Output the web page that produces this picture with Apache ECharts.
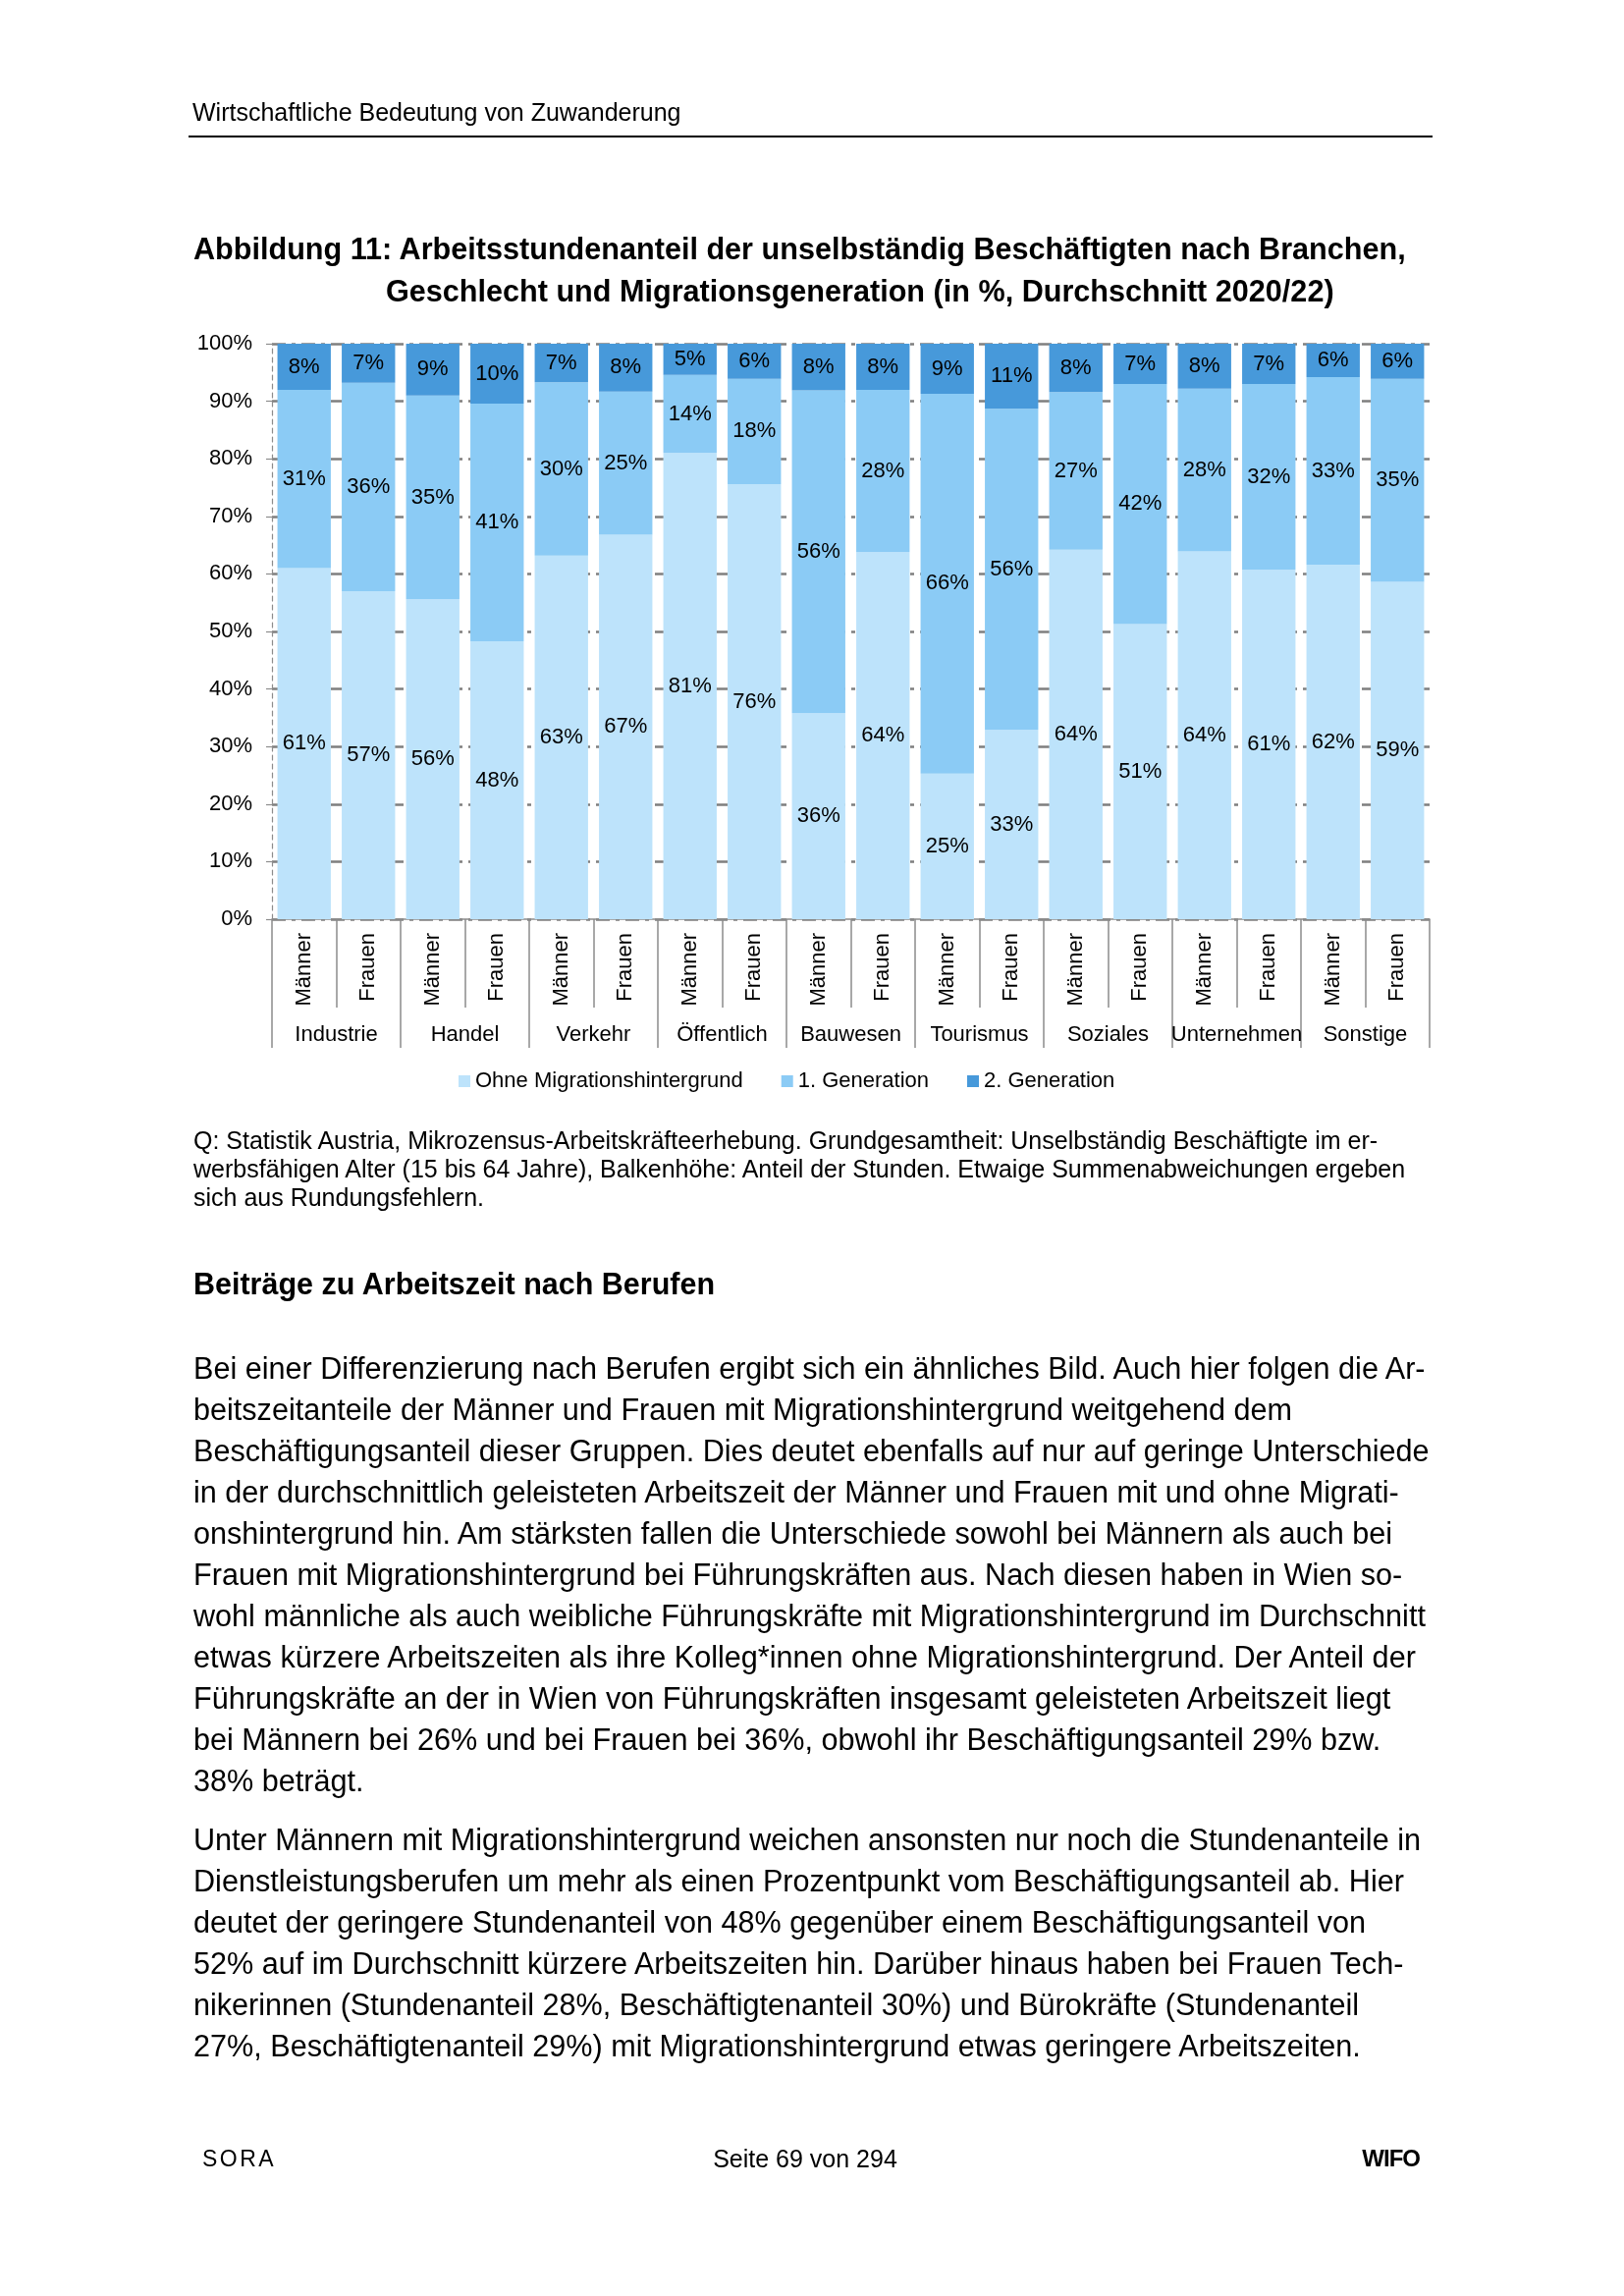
<!DOCTYPE html>
<html>
<head>
<meta charset="utf-8">
<script src="https://cdn.jsdelivr.net/npm/echarts@6/dist/echarts.min.js"></script>
<style>
  html, body { margin: 0; padding: 0; background: #fff; }
  body { width: 1654px; height: 2338px; position: relative; font-family: "Liberation Sans", Arial, sans-serif; color: #000; overflow: hidden; }
  #chart { position: absolute; left: 0; top: 0; width: 1654px; height: 2338px; }
  .t { position: absolute; white-space: nowrap; }
</style>
</head>
<body>
<div id="chart"></div>

<div class="t" style="left:196px; top:99px; font-size:25px; line-height:30px;">Wirtschaftliche Bedeutung von Zuwanderung</div>
<div style="position:absolute; left:192px; top:138px; width:1267px; height:2px; background:#000;"></div>

<div class="t" style="left:197px; top:232px; font-size:30.6px; line-height:43.2px; font-weight:bold;">Abbildung 11: Arbeitsstundenanteil der unselbständig Beschäftigten nach Branchen,<br><span style="padding-left:196px;">Geschlecht und Migrationsgeneration (in %, Durchschnitt 2020/22)</span></div>

<div class="t" style="left:197px; top:1147px; font-size:25px; line-height:29px;">Q: Statistik Austria, Mikrozensus-Arbeitskräfteerhebung. Grundgesamtheit: Unselbständig Beschäftigte im er-<br>werbsfähigen Alter (15 bis 64 Jahre), Balkenhöhe: Anteil der Stunden. Etwaige Summenabweichungen ergeben<br>sich aus Rundungsfehlern.</div>

<div class="t" style="left:197px; top:1287px; font-size:30.5px; line-height:40px; font-weight:bold;">Beiträge zu Arbeitszeit nach Berufen</div>

<div class="t" style="left:197px; top:1372px; font-size:30.6px; line-height:42px;">Bei einer Differenzierung nach Berufen ergibt sich ein ähnliches Bild. Auch hier folgen die Ar-<br>beitszeitanteile der Männer und Frauen mit Migrationshintergrund weitgehend dem<br>Beschäftigungsanteil dieser Gruppen. Dies deutet ebenfalls auf nur auf geringe Unterschiede<br>in der durchschnittlich geleisteten Arbeitszeit der Männer und Frauen mit und ohne Migrati-<br>onshintergrund hin. Am stärksten fallen die Unterschiede sowohl bei Männern als auch bei<br>Frauen mit Migrationshintergrund bei Führungskräften aus. Nach diesen haben in Wien so-<br>wohl männliche als auch weibliche Führungskräfte mit Migrationshintergrund im Durchschnitt<br>etwas kürzere Arbeitszeiten als ihre Kolleg*innen ohne Migrationshintergrund. Der Anteil der<br>Führungskräfte an der in Wien von Führungskräften insgesamt geleisteten Arbeitszeit liegt<br>bei Männern bei 26% und bei Frauen bei 36%, obwohl ihr Beschäftigungsanteil 29% bzw.<br>38% beträgt.</div>

<div class="t" style="left:197px; top:1852px; font-size:30.6px; line-height:42px;">Unter Männern mit Migrationshintergrund weichen ansonsten nur noch die Stundenanteile in<br>Dienstleistungsberufen um mehr als einen Prozentpunkt vom Beschäftigungsanteil ab. Hier<br>deutet der geringere Stundenanteil von 48% gegenüber einem Beschäftigungsanteil von<br>52% auf im Durchschnitt kürzere Arbeitszeiten hin. Darüber hinaus haben bei Frauen Tech-<br>nikerinnen (Stundenanteil 28%, Beschäftigtenanteil 30%) und Bürokräfte (Stundenanteil<br>27%, Beschäftigtenanteil 29%) mit Migrationshintergrund etwas geringere Arbeitszeiten.</div>

<div class="t" style="left:206px; top:2183px; font-size:23px; line-height:30px; letter-spacing:2.5px;">SORA</div>
<div class="t" style="left:0; width:1640px; text-align:center; top:2183px; font-size:25px; line-height:30px;">Seite 69 von 294</div>
<div class="t" style="right:208px; top:2183px; font-size:24px; line-height:30px; font-weight:bold; letter-spacing:-1px;">WIFO</div>

<script>
// Categories
const groups = ['Industrie', 'Handel', 'Verkehr', 'Öffentlich', 'Bauwesen', 'Tourismus', 'Soziales', 'Unternehmen', 'Sonstige'];
const sexes = ['Männer', 'Frauen'];
const categories = [];
groups.forEach(function () { sexes.forEach(function (s) { categories.push(s); }); });

// Series names
const seriesNames = ['Ohne Migrationshintergrund', '1. Generation', '2. Generation'];

// Values (%), order: Industrie M, Industrie F, Handel M, Handel F, ...
const ohneMigration = [61.0, 57.0, 55.6, 48.3, 63.2, 66.8, 81.0, 75.6, 35.8, 63.8, 25.3, 32.9, 64.2, 51.3, 63.9, 60.7, 61.6, 58.6];
const ersteGeneration = [31.0, 36.2, 35.4, 41.3, 30.1, 24.9, 13.6, 18.3, 56.1, 28.2, 66.0, 55.8, 27.4, 41.7, 28.3, 32.3, 32.6, 35.3];
const zweiteGeneration = [8.0, 6.8, 9.0, 10.4, 6.7, 8.3, 5.4, 6.1, 8.1, 8.0, 8.7, 11.3, 8.4, 7.0, 7.8, 7.0, 5.8, 6.1];

// Y ticks
const yMin = 0, yMax = 100, yStep = 10;

const colors = ['#BDE3FB', '#8BCBF5', '#4799DA'];
const FONT = '"Liberation Sans", Arial, sans-serif';

const chart = echarts.init(document.getElementById('chart'), null, { renderer: 'canvas' });

function barSeries(name, data, color) {
  return {
    name: name,
    type: 'bar',
    stack: 'total',
    xAxisIndex: 0,
    barCategoryGap: '17%',
    data: data,
    itemStyle: { color: color },
    label: {
      show: true,
      position: 'inside',
      color: '#000',
      fontFamily: FONT,
      fontSize: 22,
      formatter: function (p) { return Math.round(p.value) + '%'; }
    },
    emphasis: { disabled: true }
  };
}

chart.setOption({
  animation: false,
  backgroundColor: 'transparent',
  textStyle: { fontFamily: FONT },
  grid: { left: 277, right: 198, top: 350, bottom: 1402, containLabel: false },
  legend: {
    data: seriesNames,
    left: 462,
    top: 1085,
    icon: 'rect',
    itemWidth: 12,
    itemHeight: 12,
    itemGap: 39,
    textStyle: { fontFamily: FONT, fontSize: 22, color: '#000' },
    selectedMode: false
  },
  xAxis: [
    {
      type: 'category',
      data: categories,
      position: 'bottom',
      axisLine: { show: true, lineStyle: { color: '#8c8c8c', width: 1.5 } },
      axisTick: { show: true, interval: 0, length: 90, lineStyle: { color: '#8c8c8c', width: 1.5 } },
      axisLabel: { interval: 0, rotate: 90, margin: 14, fontSize: 22, color: '#000', fontFamily: FONT },
      splitLine: { show: false }
    },
    {
      type: 'category',
      data: groups,
      position: 'bottom',
      axisLine: { show: false },
      axisTick: { show: true, interval: 0, length: 131, lineStyle: { color: '#8c8c8c', width: 1.5 } },
      axisLabel: { interval: 0, margin: 107, fontSize: 22, color: '#000', fontFamily: FONT },
      splitLine: { show: false }
    }
  ],
  yAxis: {
    type: 'value',
    min: yMin,
    max: yMax,
    interval: yStep,
    axisLine: { show: true, lineStyle: { color: '#8c8c8c', width: 1.2, type: [5, 4] } },
    axisTick: { show: true, length: 6, lineStyle: { color: '#8c8c8c', width: 1.2 } },
    axisLabel: { formatter: '{value}%', margin: 20, fontSize: 22, color: '#000', fontFamily: FONT },
    splitLine: { show: true, lineStyle: { color: '#7f7f7f', width: 2.5, type: [14, 6, 4, 6] } }
  },
  series: [
    barSeries(seriesNames[0], ohneMigration, colors[0]),
    barSeries(seriesNames[1], ersteGeneration, colors[1]),
    barSeries(seriesNames[2], zweiteGeneration, colors[2])
  ]
});
</script>
</body>
</html>
